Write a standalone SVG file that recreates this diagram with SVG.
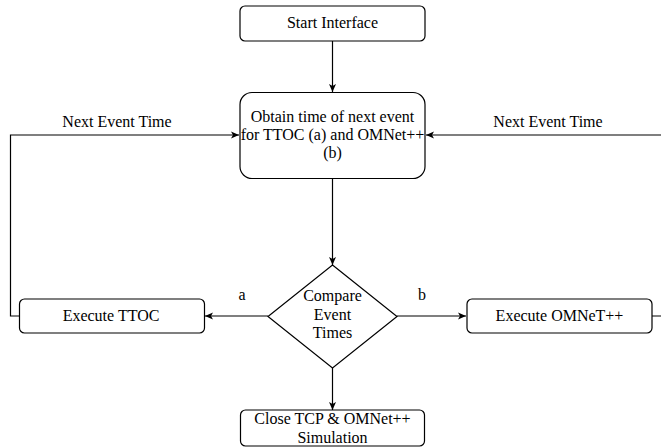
<svg xmlns="http://www.w3.org/2000/svg" width="661" height="448" viewBox="0 0 661 448" font-family="Liberation Serif, DejaVu Serif, serif">
<style>
.box{fill:#fff;stroke:#000;stroke-width:1.2}
.t{font-size:16px;fill:#000;text-anchor:middle}
.c{fill:none;stroke:#000;stroke-width:1.2}
</style>
<defs>
<marker id="ah" markerUnits="userSpaceOnUse" markerWidth="10" markerHeight="10" viewBox="0 0 10 10" refX="9" refY="5" orient="auto">
<path d="M1,1.5 L9,5 L1,8.5 L3,5 Z" fill="#000"/>
</marker>
</defs>
<g id="connectors">
<path class="c" d="M332.5,41 V92" marker-end="url(#ah)"/>
<path class="c" d="M332.5,178 V265" marker-end="url(#ah)"/>
<path class="c" d="M268,316 H205" marker-end="url(#ah)"/>
<path class="c" d="M397,316 H466" marker-end="url(#ah)"/>
<path class="c" d="M332.5,368 V410" marker-end="url(#ah)"/>
<path class="c" d="M19,316 H10.5 V135 H239" marker-end="url(#ah)"/>
<path class="c" d="M652,316 H672 V135 H426" marker-end="url(#ah)"/>
<text class="t" font-family="Liberation Serif, DejaVu Serif, serif" x="117" y="127">Next Event Time</text>
<text class="t" font-family="Liberation Serif, DejaVu Serif, serif" x="548" y="127">Next Event Time</text>
<text class="t" font-family="Liberation Serif, DejaVu Serif, serif" x="242" y="300">a</text>
<text class="t" font-family="Liberation Serif, DejaVu Serif, serif" x="422" y="300">b</text>
</g>
<g id="start">
<rect class="box" x="240" y="6" width="185" height="35" rx="5"/>
<text class="t" font-family="Liberation Serif, DejaVu Serif, serif" x="332.5" y="28">Start Interface</text>
</g>
<g id="obtain">
<rect class="box" x="240" y="92.5" width="185" height="86" rx="12"/>
<text class="t" font-family="Liberation Serif, DejaVu Serif, serif" x="332.5" y="122">Obtain time of next event</text>
<text class="t" font-family="Liberation Serif, DejaVu Serif, serif" x="332.5" y="140">for TTOC (a) and OMNet++</text>
<text class="t" font-family="Liberation Serif, DejaVu Serif, serif" x="332.5" y="158">(b)</text>
</g>
<g id="compare">
<path class="box" d="M332.5,265 L397,316.5 L332.5,368 L268,316.5 Z"/>
<text class="t" font-family="Liberation Serif, DejaVu Serif, serif" x="332.5" y="301">Compare</text>
<text class="t" font-family="Liberation Serif, DejaVu Serif, serif" x="332.5" y="320">Event</text>
<text class="t" font-family="Liberation Serif, DejaVu Serif, serif" x="332.5" y="338">Times</text>
</g>
<g id="ttoc">
<rect class="box" x="19.5" y="299" width="185" height="34" rx="5"/>
<text class="t" font-family="Liberation Serif, DejaVu Serif, serif" x="111" y="321">Execute TTOC</text>
</g>
<g id="omnet">
<rect class="box" x="467" y="299" width="185" height="34" rx="5"/>
<text class="t" font-family="Liberation Serif, DejaVu Serif, serif" x="559.5" y="321">Execute OMNeT++</text>
</g>
<g id="close">
<rect class="box" x="240.5" y="410" width="184" height="36" rx="5"/>
<text class="t" font-family="Liberation Serif, DejaVu Serif, serif" x="332.5" y="424">Close TCP &amp; OMNet++</text>
<text class="t" font-family="Liberation Serif, DejaVu Serif, serif" x="332.5" y="443">Simulation</text>
</g>
</svg>
